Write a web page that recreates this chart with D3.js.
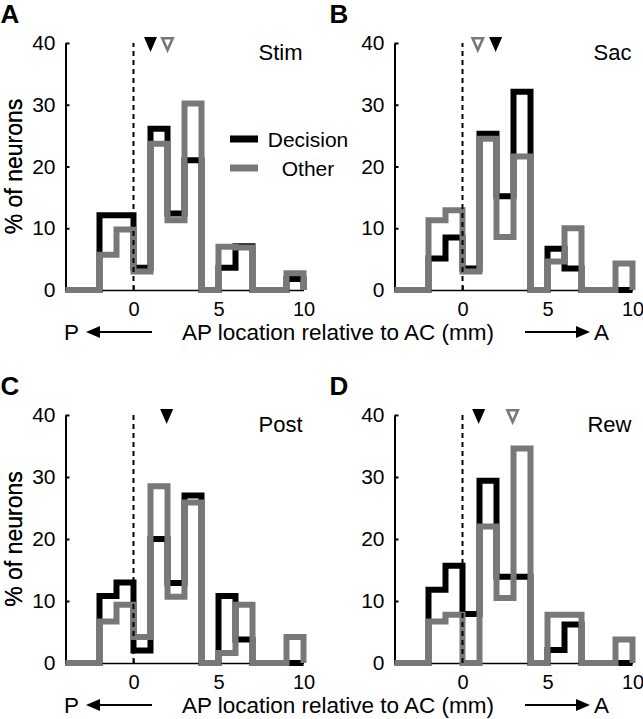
<!DOCTYPE html>
<html>
<head>
<meta charset="utf-8">
<script src="https://cdn.jsdelivr.net/npm/d3@7"></script>
<style>
  html, body { margin: 0; padding: 0; background: #fff; }
  svg { display: block; }
  text { font-family: "Liberation Sans", Arial, Helvetica, sans-serif; fill: #000; }
</style>
</head>
<body>
<svg id="chart" width="643" height="719"></svg>
<script>
// ---- data ----
const binEdges = [-4, -3, -2, -1, 0, 1, 2, 3, 4, 5, 6, 7, 8, 9, 10];
const panelLetters = ["A", "B", "C", "D"];
const panelTitles = ["Stim", "Sac", "Post", "Rew"];
const seriesNames = ["Decision", "Other"];

const stimDecision = [0, 0, 12.1, 12.1, 3.6, 26.1, 12.4, 21.0, 0, 3.6, 7.1, 0, 0, 1.8];
const stimOther    = [0, 0, 5.7, 9.8, 3.0, 23.7, 11.3, 30.2, 0, 7.0, 6.9, 0, 0, 2.7];
const sacDecision  = [0, 0, 5.1, 8.5, 3.5, 25.3, 15.2, 32.1, 0, 6.7, 3.5, 0, 0, 0];
const sacOther     = [0, 0, 11.3, 12.9, 3.0, 24.5, 8.6, 21.6, 0, 4.6, 10.0, 0, 0, 4.3];
const postDecision = [0, 0, 10.8, 13.0, 2.0, 20.0, 12.9, 27.0, 0, 10.8, 3.8, 0, 0, 0];
const postOther    = [0, 0, 6.7, 9.4, 4.2, 28.5, 10.7, 25.9, 0, 1.6, 9.4, 0, 0, 4.2];
const rewDecision  = [0, 0, 11.8, 15.7, 7.9, 29.4, 13.9, 13.9, 0, 2.1, 6.2, 0, 0, 0];
const rewOther     = [0, 0, 6.7, 7.8, 0, 22.0, 10.5, 34.6, 0, 7.8, 7.8, 0, 0, 3.8];

const decisionMeans = [1.0, 1.95, 1.95, 0.95];
const otherMeans    = [2.0, 0.9, null, 2.95];

const yTicks = [0, 10, 20, 30, 40];
const xTicks = [0, 5, 10];
const xAxisTitle = "AP location relative to AC (mm)";
const yAxisTitle = "% of neurons";

// ---- layout ----
const BLACK = "#000";
const GRAY = "#787878";
const svg = d3.select("#chart");

const panels = [
  { dec: stimDecision, oth: stimOther, left: 65.5, top: 43, bottom: 290, legend: true },
  { dec: sacDecision,  oth: sacOther,  left: 394.5, top: 43, bottom: 290 },
  { dec: postDecision, oth: postOther, left: 65.5, top: 415, bottom: 663 },
  { dec: rewDecision,  oth: rewOther,  left: 394.5, top: 415, bottom: 663 }
];

function stepPoints(vals) {
  const pts = [];
  vals.forEach((v, i) => {
    pts.push([binEdges[i], v]);
    pts.push([binEdges[i + 1], v]);
  });
  pts.push([binEdges[binEdges.length - 1], 0]);
  return pts;
}

panels.forEach((p, k) => {
  const x = d3.scaleLinear().domain([binEdges[0], binEdges[binEdges.length - 1]])
    .range([p.left, p.left + 238]);
  const y = d3.scaleLinear().domain([0, 40]).range([p.bottom, p.top]);
  const g = svg.append("g");

  // y axis
  const yAx = g.append("g").attr("transform", `translate(${x(-4)},0)`)
    .call(d3.axisLeft(y).tickValues(yTicks).tickSizeInner(-4).tickSizeOuter(0).tickPadding(10));
  yAx.select(".domain").attr("stroke", BLACK).attr("stroke-width", 2);
  yAx.selectAll(".tick line").attr("stroke", BLACK).attr("stroke-width", 2);
  yAx.selectAll("text").style("font-size", "21px").attr("fill", BLACK)
    .attr("font-family", "Liberation Sans, Arial, sans-serif");

  // x axis
  const xAx = g.append("g").attr("transform", `translate(0,${y(0)})`)
    .call(d3.axisBottom(x).tickValues(xTicks).tickSizeInner(-4).tickSizeOuter(0).tickPadding(12));
  xAx.select(".domain").attr("stroke", BLACK).attr("stroke-width", 1.5);
  xAx.selectAll(".tick line").attr("stroke", BLACK).attr("stroke-width", 1.5);
  xAx.selectAll("text").style("font-size", "20px").attr("fill", BLACK)
    .attr("font-family", "Liberation Sans, Arial, sans-serif");

  // y label
  g.append("text")
    .attr("transform", `translate(22,${(y(0) + y(40)) / 2}) rotate(-90)`)
    .attr("text-anchor", "middle")
    .style("font-size", "23px")
    .text(yAxisTitle);

  // histograms
  const line = d3.line().x(d => x(d[0])).y(d => y(d[1]));
  g.append("path").attr("d", line(stepPoints(p.dec)))
    .attr("fill", "none").attr("stroke", BLACK).attr("stroke-width", 6)
    .attr("stroke-linejoin", "miter");
  g.append("path").attr("d", line(stepPoints(p.oth)))
    .attr("fill", "none").attr("stroke", GRAY).attr("stroke-width", 6)
    .attr("stroke-linejoin", "miter");

  // dashed zero line
  g.append("line")
    .attr("x1", x(0)).attr("x2", x(0)).attr("y1", y(0)).attr("y2", y(40))
    .attr("stroke", BLACK).attr("stroke-width", 2).attr("stroke-dasharray", "5,4");

  // mean markers
  const tri = (cx) => {
    const ty = y(40);
    return `M${cx - 6.5},${ty - 6} L${cx + 6.5},${ty - 6} L${cx},${ty + 9} Z`;
  };
  if (decisionMeans[k] != null) {
    g.append("path").attr("d", tri(x(decisionMeans[k]))).attr("fill", BLACK);
  }
  if (otherMeans[k] != null) {
    const cx = x(otherMeans[k]);
    const ty = y(40);
    g.append("path")
      .attr("d", `M${cx - 5.2},${ty - 4.8} L${cx + 5.2},${ty - 4.8} L${cx},${ty + 7} Z`)
      .attr("fill", "#fff").attr("stroke", GRAY).attr("stroke-width", 2.6);
  }

  // panel title
  g.append("text").attr("x", x(10) - 1).attr("y", y(40) + 17)
    .attr("text-anchor", "end").style("font-size", "22px").text(panelTitles[k]);

  // panel letter
  g.append("text").attr("x", p.left - 65).attr("y", y(40) - 20)
    .style("font-size", "26px").style("font-weight", "bold").text(panelLetters[k]);

  // legend
  if (p.legend) {
    const lx = 230, ly = 139;
    [BLACK, GRAY].forEach((c, i) => {
      g.append("line").attr("x1", lx).attr("x2", lx + 28)
        .attr("y1", ly + i * 29).attr("y2", ly + i * 29)
        .attr("stroke", c).attr("stroke-width", 7);
      g.append("text").attr("x", 308).attr("y", ly + i * 29 + 8)
        .attr("text-anchor", "middle").style("font-size", "21px").text(seriesNames[i]);
    });
  }
});

// x axis titles (one per row) with P/A arrows
[340, 713].forEach(by => {
  const g = svg.append("g");
  g.append("text").attr("x", 338).attr("y", by).attr("text-anchor", "middle")
    .style("font-size", "22.5px").text(xAxisTitle);
  g.append("text").attr("x", 64).attr("y", by).style("font-size", "22.5px").text("P");
  g.append("text").attr("x", 594).attr("y", by).style("font-size", "22.5px").text("A");
  const ay = by - 8;
  // left arrow
  g.append("line").attr("x1", 98).attr("x2", 152).attr("y1", ay).attr("y2", ay)
    .attr("stroke", BLACK).attr("stroke-width", 2);
  g.append("path").attr("d", `M86,${ay} L100,${ay - 6} L100,${ay + 6} Z`).attr("fill", BLACK);
  // right arrow
  g.append("line").attr("x1", 525).attr("x2", 578).attr("y1", ay).attr("y2", ay)
    .attr("stroke", BLACK).attr("stroke-width", 2);
  g.append("path").attr("d", `M590,${ay} L576,${ay - 6} L576,${ay + 6} Z`).attr("fill", BLACK);
});
</script>
</body>
</html>
